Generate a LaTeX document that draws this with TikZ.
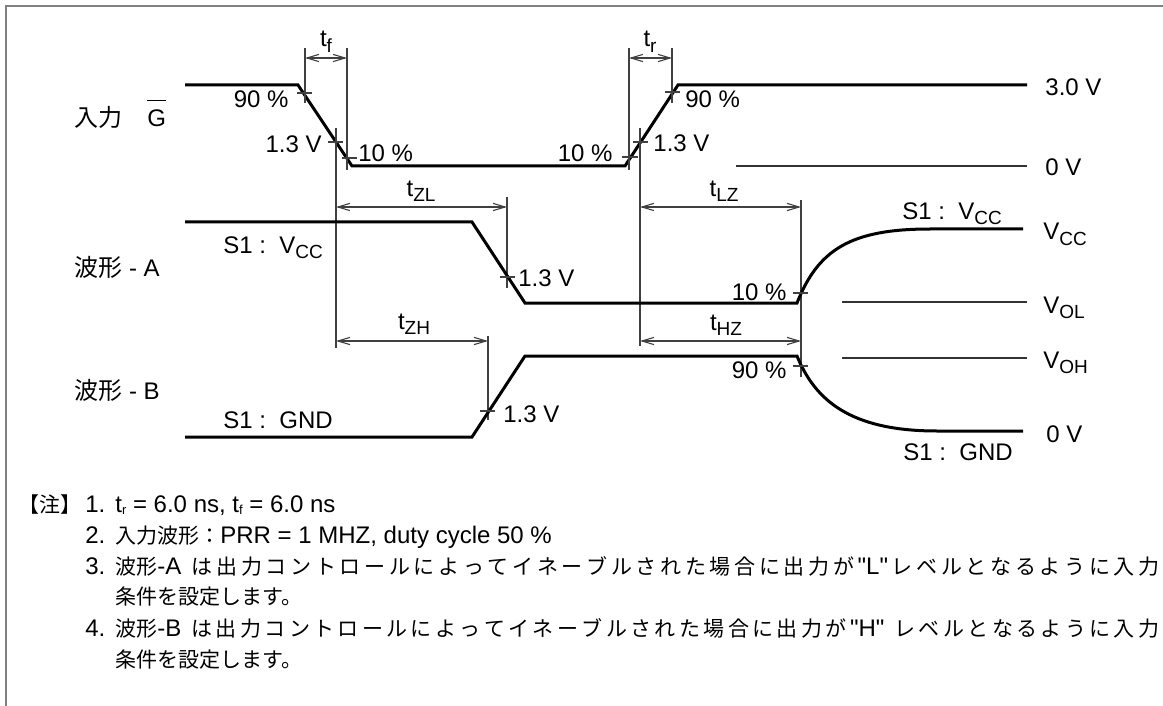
\documentclass[tikz,border=0pt]{standalone}
\usepackage{fontspec}
\setmainfont{Liberation Sans}
\newfontfamily\cjk{Noto Sans CJK JP}
\newfontfamily\qfont{Liberation Sans}
\usetikzlibrary{arrows.meta}
\makeatletter
\def\spreadbox#1#2{\hbox to #1{\spr@first#2\@nil}}
\def\spr@first#1{#1\spr@a}
\def\spr@nil{\@nil}
\def\spr@a#1{\def\spr@tmp{#1}\ifx\spr@tmp\spr@nil\else\hfill#1\expandafter\spr@a\fi}
\makeatother
\newcommand\lat[1]{{\fontsize{12}{14}\selectfont\qfont #1}}
\newcommand\sbs[1]{\raisebox{-2.5pt}{\fontsize{9.5}{10}\selectfont #1}}
\newcommand\nsub[1]{\raisebox{-1pt}{\fontsize{6.5}{7}\selectfont #1}}
\newcommand\jn[1]{{\fontsize{10.5}{13}\selectfont\cjk #1}}
\begin{document}
\begin{tikzpicture}[x=0.5pt,y=-0.5pt,
  lab/.style={inner sep=0pt, font=\fontsize{12}{14}\selectfont},
  note/.style={inner sep=0pt, font=\fontsize{12}{14}\selectfont},
  wave/.style={line width=1.5pt, line join=miter},
  dim/.style={line width=0.55pt, black!75},
  lvl/.style={line width=0.6pt, black!80},
  dimarr/.style={dim, {Straight Barb[length=6pt,width=3.6pt]}-{Straight Barb[length=6pt,width=3.6pt]}},
  framel/.style={line width=1pt, black!50}]
\useasboundingbox (0,0) rectangle (1163,706);
% frame
\coordinate (fr1) at (1163,6.5);
\coordinate (fr2) at (6,6.5);
\coordinate (fr3) at (6,706);
\draw[framel] (fr1) -- (fr2) -- (fr3);

% ---------- input waveform
\coordinate (g0) at (185,85);
\coordinate (g1) at (298,85);
\coordinate (g2) at (352,166);
\coordinate (g3) at (625,166);
\coordinate (g4) at (678,85);
\coordinate (g5) at (1027,85);
\draw[wave] (g0) -- (g1) -- (g2) -- (g3) -- (g4) -- (g5);
\coordinate (z0a) at (736,166);
\coordinate (z0b) at (1027,166);
\draw[lvl] (z0a) -- (z0b);

% ticks and dimension lines (input)
\coordinate (tk1a) at (297,93);  \coordinate (tk1b) at (312,93);
\coordinate (tk2a) at (328,142); \coordinate (tk2b) at (343,142);
\coordinate (tk3a) at (342,158); \coordinate (tk3b) at (357,158);
\coordinate (tk4a) at (622,157); \coordinate (tk4b) at (638,157);
\coordinate (tk5a) at (633,142); \coordinate (tk5b) at (648,142);
\coordinate (tk6a) at (665,92);  \coordinate (tk6b) at (680,92);
\foreach \i in {1,...,6} {\draw[dim] (tk\i a) -- (tk\i b);}

\coordinate (vf1a) at (305,48);  \coordinate (vf1b) at (305,103);
\coordinate (vf2a) at (347,48);  \coordinate (vf2b) at (347,170);
\coordinate (vr1a) at (629,48);  \coordinate (vr1b) at (629,170);
\coordinate (vr2a) at (672,48);  \coordinate (vr2b) at (672,103);
\coordinate (vl1a) at (336,128); \coordinate (vl1b) at (336,348);
\coordinate (vl2a) at (640,128); \coordinate (vl2b) at (640,346);
\coordinate (vzla) at (507,197); \coordinate (vzlb) at (507,288);
\coordinate (vzha) at (488,336); \coordinate (vzhb) at (488,420);
\coordinate (vrta) at (801,200); \coordinate (vrtb) at (801,377);
\foreach \p in {vf1,vf2,vr1,vr2,vl1,vl2,vzl,vzh,vrt} {\draw[dim] (\p a) -- (\p b);}

% dimension arrows
\coordinate (atf1) at (305,58); \coordinate (atf2) at (347,58);
\coordinate (atr1) at (629,58); \coordinate (atr2) at (672,58);
\coordinate (azl1) at (336,207); \coordinate (azl2) at (507,207);
\coordinate (alz1) at (640,207); \coordinate (alz2) at (801,207);
\coordinate (azh1) at (336,341); \coordinate (azh2) at (488,341);
\coordinate (ahz1) at (640,341); \coordinate (ahz2) at (801,341);
\foreach \p in {atf,atr,azl,alz,azh,ahz} {\draw[dimarr] (\p 1) -- (\p 2);}

% ---------- waveform A
\coordinate (a0) at (185,222);
\coordinate (a1) at (472,222);
\coordinate (a2) at (525,303);
\coordinate (a3) at (797,303);
\coordinate (a4) at (930,229);
\coordinate (a5) at (1023,229);
\draw[wave] (a0) -- (a1) -- (a2) -- (a3) .. controls (818,250) and (850,229) .. (a4) -- (a5);
% ---------- waveform B
\coordinate (b0) at (185,437);
\coordinate (b1) at (472,437);
\coordinate (b2) at (525,356);
\coordinate (b3) at (797,356);
\coordinate (b4) at (937,431);
\coordinate (b5) at (1023,431);
\draw[wave] (b0) -- (b1) -- (b2) -- (b3) .. controls (815,400) and (850,431) .. (b4) -- (b5);

\coordinate (tk7a) at (500,277); \coordinate (tk7b) at (515,277);
\coordinate (tk8a) at (793,293); \coordinate (tk8b) at (808,293);
\coordinate (tk9a) at (480,411); \coordinate (tk9b) at (495,411);
\coordinate (tk10a) at (793,366); \coordinate (tk10b) at (808,366);
\foreach \i in {7,...,10} {\draw[dim] (tk\i a) -- (tk\i b);}

\coordinate (vola) at (842,302); \coordinate (volb) at (1027,302);
\coordinate (voha) at (842,358); \coordinate (vohb) at (1027,358);
\draw[lvl] (vola) -- (volb);
\draw[lvl] (voha) -- (vohb);

% ---------- labels
\node[lab, anchor=base] (ltf) at (326,47) {t\sbs{f}};
\node[lab, anchor=base] (ltr) at (650,47) {t\sbs{r}};
\node[lab, anchor=base east] (l90a) at (289,108) {90 \%};
\node[lab, anchor=base east] (l13a) at (322,153) {1.3 V};
\node[lab, anchor=base west] (l10a) at (358,162) {10 \%};
\node[lab, anchor=base east] (l10b) at (613,162) {10 \%};
\node[lab, anchor=base west] (l13b) at (653,152) {1.3 V};
\node[lab, anchor=base west] (l90b) at (685,108) {90 \%};
\node[lab, anchor=base west] (l30) at (1045,96) {3.0 V};
\node[lab, anchor=base west] (l0a) at (1045,176) {0 V};
\node[lab, anchor=base west] (lin) at (74,127) {\cjk 入力};
\node[lab, anchor=base west] (lG) at (147,127) {G};
\draw[line width=0.6pt] ([yshift=4.5pt]lG.north west) -- ([yshift=4.5pt]lG.north east);

\node[lab, anchor=base] (lzl) at (421,197) {t\sbs{ZL}};
\node[lab, anchor=base] (llz) at (724,197) {t\sbs{LZ}};
\node[lab, anchor=base] (lzh) at (414,329) {t\sbs{ZH}};
\node[lab, anchor=base] (lhz) at (726,330) {t\sbs{HZ}};

\node[lab, anchor=base west] (ls1a) at (223,253) {S1 :\ \ V\sbs{CC}};
\node[lab, anchor=base west] (lwa) at (74,277) {{\cjk 波形} - A};
\node[lab, anchor=base west] (lwb) at (74,399) {{\cjk 波形} - B};
\node[lab, anchor=base west] (ls1b) at (223,428) {S1 :\ \ GND};
\node[lab, anchor=base west] (l13c) at (518,286) {1.3 V};
\node[lab, anchor=base east] (l10c) at (787,300) {10 \%};
\node[lab, anchor=base west] (l13d) at (503,422) {1.3 V};
\node[lab, anchor=base east] (l90c) at (787,378) {90 \%};

\node[lab, anchor=base west] (ls1c) at (902,220) {S1 :\ \ V\sbs{CC}};
\node[lab, anchor=base west] (lvcc) at (1043,240) {V\sbs{CC}};
\node[lab, anchor=base west] (lvol) at (1043,313) {V\sbs{OL}};
\node[lab, anchor=base west] (lvoh) at (1043,368) {V\sbs{OH}};
\node[lab, anchor=base west] (l0b) at (1046,442) {0 V};
\node[lab, anchor=base west] (ls1d) at (903,460) {S1 :\ \ GND};

% ---------- notes
\node[note, anchor=base west] (n0) at (18,512) {\jn{【注】}};
\node[note, anchor=base west] (n1) at (85,512) {1.};
\node[note, anchor=base west] (n1t) at (115,512) {t\nsub{r} = 6.0 ns, t\nsub{f} = 6.0 ns};
\node[note, anchor=base west] (n2) at (85,543) {2.};
\node[note, anchor=base west] (n2t) at (115,543) {\jn{入力波形：}PRR = 1 MHZ, duty cycle 50 \%};
\node[note, anchor=base west] (n3) at (85,574) {3.};
\node[note, anchor=base west] (n3t) at (115,574) {\fontsize{10.5}{13}\selectfont\cjk\spreadbox{522pt}{{波形\lat{-A\ }} は 出 力 コ ン ト ロ ー ル に よ っ て イ ネ ー ブ ル さ れ た 場 合 に 出 力 が {\lat{"L"}} レ ベ ル と な る よ う に 入 力}};
\node[note, anchor=base west] (n3b) at (115,604) {\jn{条件を設定します。}};
\node[note, anchor=base west] (n4) at (85,636) {4.};
\node[note, anchor=base west] (n4t) at (115,636) {\fontsize{10.5}{13}\selectfont\cjk\spreadbox{522pt}{{波形\lat{-B\ }} は 出 力 コ ン ト ロ ー ル に よ っ て イ ネ ー ブ ル さ れ た 場 合 に 出 力 が {\lat{"H"\ }} レ ベ ル と な る よ う に 入 力}};
\node[note, anchor=base west] (n4b) at (115,667) {\jn{条件を設定します。}};
\end{tikzpicture}
\end{document}
